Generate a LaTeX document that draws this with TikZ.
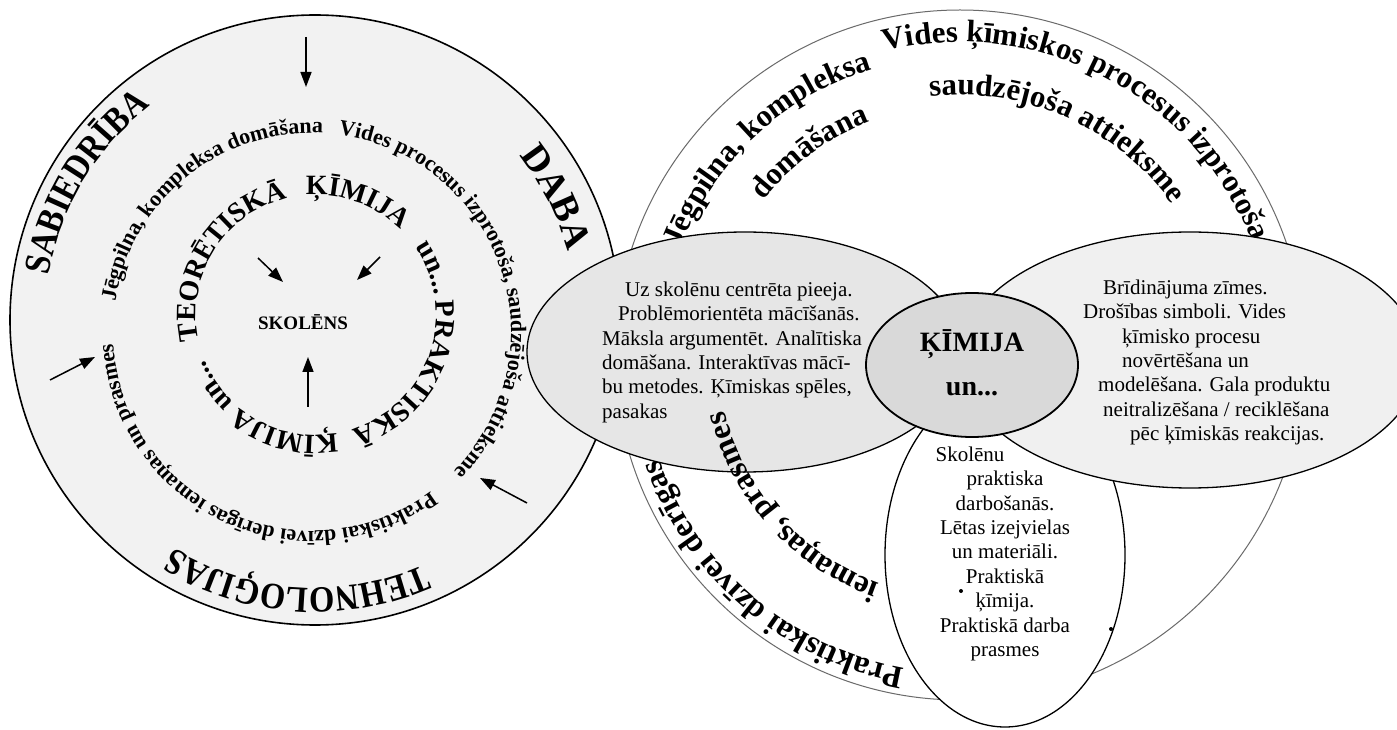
\documentclass[tikz,border=0pt]{standalone}
\usepackage{fontspec}
\setmainfont{Liberation Serif}
\newfontfamily\narrowserif{Liberation Serif}[FakeStretch=0.88]
\usetikzlibrary{decorations.text,arrows.meta,calc}

% fonts for the curved labels
\newcommand{\fOuter}{\narrowserif\bfseries\fontsize{37}{37}\selectfont}
\newcommand{\fDaba}{\bfseries\fontsize{38}{38}\selectfont}
\newcommand{\fRingA}{\bfseries\fontsize{22}{22}\selectfont}
\newcommand{\fRingB}{\bfseries\fontsize{28}{28}\selectfont}
\newcommand{\fRight}{\bfseries\fontsize{31}{31}\selectfont}
\newcommand{\fRightLow}{\bfseries\fontsize{32}{32}\selectfont}

% text set along a clockwise arc: centre, radius, start angle, end angle, font, text
\newcommand{\arcwords}[6]{%
  \path[decorate, decoration={text along path, text align=center, text={|#5|#6}}]
    ([shift={(#1)}]#3:#2) arc[start angle=#3, end angle=#4, radius=#2];}

\definecolor{wheelfill}{HTML}{F2F2F2}
\definecolor{leftfill}{HTML}{E6E6E6}
\definecolor{rightfill}{HTML}{F0F0F0}
\definecolor{corefill}{HTML}{D9D9D9}
\definecolor{thinrim}{HTML}{6A6A6A}

\begin{document}
\begin{tikzpicture}[x=1pt,y=1pt,
  rim/.style={draw=black, line width=1.6pt},
  bubble/.style={draw=black, line width=1.3pt},
  pointer/.style={-{Triangle[length=15pt,width=11pt]}, line width=1.5pt},
  bodytext/.style={inner sep=0pt, font=\fontsize{21}{24.4}\selectfont}]

\useasboundingbox (0,0) rectangle (1397,729);
\fill[white] (0,0) rectangle (1397,729);

% ---------- left wheel ----------
\coordinate (LC) at (315,409);
\coordinate (R1) at (312,397);
\coordinate (R2) at (316,414);
\draw[rim, fill=wheelfill] (LC) circle[radius=305];

% ---------- right wheel ----------
\coordinate (RC) at (960,374);
\draw[draw=thinrim, line width=1pt] (RC) circle[radius=345];

% outer words of the left wheel
\arcwords{LC}{270}{180}{118}{\fOuter}{SABIEDRĪBA}
\arcwords{LC}{262}{57}{-3}{\fDaba}{DABA}
\arcwords{LC}{268}{-47}{-141}{\fOuter}{TEHNOLOĢIJAS}

% middle ring
\arcwords{R1}{199}{177}{81}{\fRingA}{Jēgpilna, kompleksa domāšana}
\arcwords{R1}{199}{86}{-48}{\fRingA}{Vides procesus izprotoša, saudzējoša attieksme}
\arcwords{R1}{199}{-48}{-182}{\fRingA}{Praktiskai dzīvei derīgas iemaņas un prasmes}

% inner ring
\arcwords{R2}{120}{198}{98}{\fRingB}{TEORĒTISKĀ}
\arcwords{R2}{120}{100}{40}{\fRingB}{ĶĪMIJA}
\arcwords{R2}{120}{40}{4}{\fRingB}{un...}
\arcwords{R2}{120}{10}{-76}{\fRingB}{PRAKTISKĀ}
\arcwords{R2}{120}{-74}{-164}{\fRingB}{ĶĪMIJA un...}

% centre and arrows
\node[inner sep=0pt, font=\bfseries\fontsize{19}{19}\selectfont] (pupil) at (303,407) {SKOLĒNS};
\coordinate (topTail) at (306,692);   \coordinate (topHead) at (306,642);
\coordinate (leftTail) at (50,349);   \coordinate (leftHead) at (95,372);
\coordinate (rightTail) at (527,226); \coordinate (rightHead) at (480,251);
\coordinate (inATail) at (258,471);   \coordinate (inAHead) at (283,447);
\coordinate (inBTail) at (380,472);   \coordinate (inBHead) at (357,449);
\coordinate (upTail) at (308,322);    \coordinate (upHead) at (308,372);
\draw[pointer] (topTail) -- (topHead);
\draw[pointer] (leftTail) -- (leftHead);
\draw[pointer] (rightTail) -- (rightHead);
\draw[pointer] (inATail) -- (inAHead);
\draw[pointer] (inBTail) -- (inBHead);
\draw[pointer] (upTail) -- (upHead);

% curved words of the right wheel
\arcwords{RC}{299}{163}{103}{\fRight}{Jēgpilna, kompleksa}
\arcwords{RC}{313}{110}{15}{\fRight}{Vides ķīmiskos procesus izprotoša}
\arcwords{RC}{250}{148}{105}{\fRight}{domāšana}
\arcwords{RC}{260}{102}{30}{\fRight}{saudzējoša attieksme}
\arcwords{RC}{318}{-90}{-171}{\fRightLow}{Praktiskai dzīvei derīgas}

% ---------- bubbles ----------
\coordinate (EB) at (1005,174);
\coordinate (EL) at (745,377);
\coordinate (ER) at (1190,369);
\coordinate (EC) at (972,364);
\draw[bubble, fill=white] (EB) ellipse[x radius=120, y radius=172];
\draw[bubble, fill=leftfill] (EL) ellipse[x radius=218, y radius=120];
\draw[bubble, fill=rightfill] (ER) ellipse[x radius=230, y radius=128];
\draw[draw=black, line width=1.8pt, fill=corefill] (EC) ellipse[x radius=106, y radius=72];

% this phrase runs over the lower rim of the left bubble
\arcwords{RC}{242}{-104}{-172}{\fRightLow}{iemaņas, prasmes}

\node[bodytext, anchor=north west, align=left] (methods) at (602,447.5)
  {\hspace*{23pt}Uz skolēnu centrēta pieeja.\\
   \hspace*{16pt}Problēmorientēta mācīšanās.\\
   Māksla argumentēt. Analītiska\\
   domāšana. Interaktīvas mācī-\\
   bu metodes. Ķīmiskas spēles,\\
   pasakas};

\node[bodytext, anchor=north west, align=left] (safety) at (1083,449.5)
  {\hspace*{20pt}Brīdinājuma zīmes.\\
   Drošības simboli. Vides\\
   \hspace*{39pt}ķīmisko procesu\\
   \hspace*{39pt}novērtēšana un\\
   \hspace*{15pt}modelēšana. Gala produktu\\
   \hspace*{20pt}neitralizēšana / reciklēšana\\
   \hspace*{47pt}pēc ķīmiskās reakcijas.};

\node[bodytext, anchor=north, align=center] (practice) at (1005,282.5)
  {Skolēnu\hspace*{70pt}\\
   praktiska\\
   darbošanās.\\
   Lētas izejvielas\\
   un materiāli.\\
   Praktiskā\\
   ķīmija.\\
   Praktiskā darba\\
   prasmes};

\node[inner sep=0pt, align=center, font=\bfseries\fontsize{28}{44}\selectfont] (core) at (972,366)
  {ĶĪMIJA\\un...};

\fill (961,138) circle[radius=2];
\fill (1111,100) circle[radius=2];
\end{tikzpicture}
\end{document}
